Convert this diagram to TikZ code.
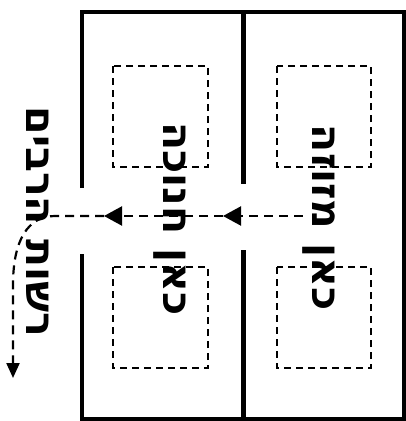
\documentclass[tikz,border=0pt]{standalone}
\usepackage{fontspec}
\newfontfamily\hebfont[Script=Hebrew]{DejaVu Sans}
\TeXXeTstate=1
\usetikzlibrary{arrows.meta}

\begin{document}
\begin{tikzpicture}[x=1pt, y=-1pt,
    wall/.style={line width=4.5pt},
    niche/.style={line width=1.8pt, dash pattern=on 7pt off 5pt},
    sign/.style={font=\hebfont\bfseries\fontsize{41}{41}\selectfont, rotate=-90, inner sep=0pt},
    flow/.style={-{Triangle[length=18pt,width=19pt]}, line width=2.2pt, dash pattern=on 9pt off 6pt},
    outflow/.style={-{Triangle[length=15pt,width=13pt]}, line width=2.2pt, dash pattern=on 9pt off 6pt}
]
\useasboundingbox (0,0) rectangle (406,421);

% walls
\draw[wall] (82,188) -- (82,12) -- (404,12) -- (404,419) -- (82,419) -- (82,254);
\draw[wall] (243.5,12) -- (243.5,184);
\draw[wall] (243.5,250) -- (243.5,419);

% niches
\draw[niche] (113,66) rectangle (208,167);
\draw[niche] (113,267) rectangle (208,368);
\draw[niche] (277,66) rectangle (371,167);
\draw[niche] (277,267) rectangle (371,368);

\node[sign] (mezuzah) at (319,218) {\beginR כאן מזוזה\endR};
\node[sign] (hanukkah) at (170,219) {\beginR כאן חנוכה\endR};
\node[sign] (public) at (38,222) {\beginR רשות הרבים\endR};

\coordinate (door1) at (223,216);
\coordinate (door2) at (104,216);
\coordinate (bend) at (55,216);
\coordinate (street) at (13,378);

\draw[flow] (mezuzah.south |- door1) -- (door1);
\draw[flow] (door1) -- (door2);
\draw[outflow] (door2) -- (bend) .. controls (28,216) and (13,240) .. (13,285) -- (street);
\end{tikzpicture}
\end{document}
